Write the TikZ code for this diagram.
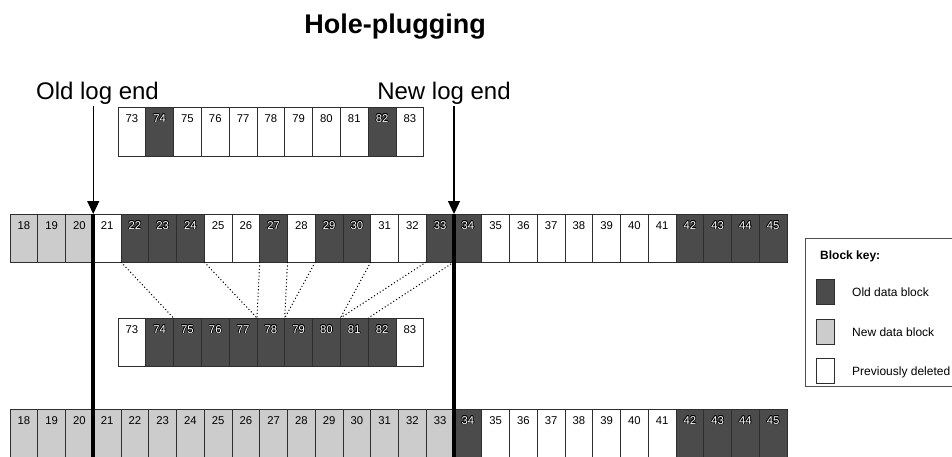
\documentclass[tikz,border=0pt]{standalone}
\usepackage{fontspec}
\setmainfont{Liberation Sans}
\usetikzlibrary{arrows.meta}
\definecolor{olddark}{HTML}{4B4B4B}
\definecolor{newlight}{HTML}{CCCCCC}
\definecolor{edgecol}{HTML}{2E2E2E}
\newbox\ringbox
\newcommand\ringtxt[1]{%
  \setbox\ringbox\hbox{#1}%
  \rlap{\color{black}\kern-.65pt\copy\ringbox}%
  \rlap{\color{black}\kern.65pt\copy\ringbox}%
  \rlap{\color{black}\raise.65pt\copy\ringbox}%
  \rlap{\color{black}\lower.65pt\copy\ringbox}%
  \rlap{\color{black}\kern.46pt\raise.46pt\copy\ringbox}%
  \rlap{\color{black}\kern-.46pt\raise.46pt\copy\ringbox}%
  \rlap{\color{black}\kern.46pt\lower.46pt\copy\ringbox}%
  \rlap{\color{black}\kern-.46pt\lower.46pt\copy\ringbox}%
  \color{white}\copy\ringbox}
\newcommand\fmtold[1]{\ringtxt{#1}}
\newcommand\fmtnew[1]{#1}
\newcommand\fmtdel[1]{#1}
\begin{document}
\begin{tikzpicture}[x=1pt,y=-1pt,
  cellbase/.style={draw=edgecol, line width=0.8pt, minimum width=27.75pt,
    minimum height=48pt, inner sep=0pt, outer sep=0pt, anchor=north west},
  cellold/.style={cellbase, fill=olddark},
  cellnew/.style={cellbase, fill=newlight},
  celldel/.style={cellbase, fill=white},
  tallcell/.style={minimum height=70pt},
  numtxt/.style={font=\fontsize{11.3}{13}\selectfont, inner sep=0pt, anchor=base},
  dotline/.style={line width=1pt, dash pattern=on 1.1pt off 2.3pt},
  arrowline/.style={line width=1.3pt, -{Triangle[width=12pt,length=13pt]}},
  logline/.style={line width=4pt},
  lbl/.style={font=\fontsize{24}{28}\selectfont, inner sep=0pt, anchor=base},
  ttl/.style={font=\bfseries\fontsize{27}{32}\selectfont, inner sep=0pt, anchor=base},
  keytxt/.style={font=\fontsize{12}{14}\selectfont, inner sep=0pt, anchor=base west},
  keyhead/.style={font=\bfseries\fontsize{12}{14}\selectfont, inner sep=0pt, anchor=base west},
  swatch/.style={draw=edgecol, line width=0.8pt, minimum width=18pt, minimum height=25pt,
    inner sep=0pt, outer sep=0pt, anchor=north west}
]
\useasboundingbox (0,0) rectangle (952,456);
\clip (0,0) rectangle (952,456);
\fill[white] (0,0) rectangle (952,456);

% title and labels
\node[ttl] (title) at (395,33) {Hole-plugging};
\node[lbl] (oldlbl) at (97.5,99) {Old log end};
\node[lbl] (newlbl) at (444,99) {New log end};

% row A (top small row)
\foreach \n/\s [count=\i from 0] in {73/del,74/old,75/del,76/del,77/del,78/del,79/del,80/del,81/del,82/old,83/del}{
  \node[cell\s, minimum height=49pt] (A\n) at ({118+\i*27.8},107) {};
  \node[numtxt] (tA\n) at ([yshift=-15.3pt]A\n.north) {\csname fmt\s\endcsname{\n}};
}
% row B (main row before)
\foreach \n/\s [count=\i from 0] in {18/new,19/new,20/new,21/del,22/old,23/old,24/old,25/del,26/del,27/old,28/del,29/old,30/old,31/del,32/del,33/old,34/old,35/del,36/del,37/del,38/del,39/del,40/del,41/del,42/old,43/old,44/old,45/old}{
  \node[cell\s] (B\n) at ({10+\i*27.75},214) {};
  \node[numtxt] (tB\n) at ([yshift=-15.3pt]B\n.north) {\csname fmt\s\endcsname{\n}};
}
% row C (middle small row)
\foreach \n/\s [count=\i from 0] in {73/del,74/old,75/old,76/old,77/old,78/old,79/old,80/old,81/old,82/old,83/del}{
  \node[cell\s] (C\n) at ({118+\i*27.8},318) {};
  \node[numtxt] (tC\n) at ([yshift=-15.3pt]C\n.north) {\csname fmt\s\endcsname{\n}};
}
% row D (main row after)
\foreach \n/\s [count=\i from 0] in {18/new,19/new,20/new,21/new,22/new,23/new,24/new,25/new,26/new,27/new,28/new,29/new,30/new,31/new,32/new,33/new,34/old,35/del,36/del,37/del,38/del,39/del,40/del,41/del,42/old,43/old,44/old,45/old}{
  \node[cell\s, tallcell] (D\n) at ({10+\i*27.75},409) {};
  \node[numtxt] (tD\n) at ([yshift=-15.3pt]D\n.north) {\csname fmt\s\endcsname{\n}};
}

% dotted mapping lines
\draw[dotline] (B21.south east) -- (C74.north east);
\draw[dotline] (B24.south east) -- (C77.north east);
\draw[dotline] (B26.south east) -- (C77.north east);
\draw[dotline] (B27.south east) -- (C78.north east);
\draw[dotline] (B28.south east) -- (C78.north east);
\draw[dotline] (B30.south east) -- (C80.north east);
\draw[dotline] (B32.south east) -- (C80.north east);
\draw[dotline] (B33.south east) -- (C81.north east);

% log end markers
\coordinate (ytop) at (0,106);
\draw[arrowline] (B20.north east |- ytop) -- (B20.north east);
\draw[logline] (B20.north east) -- (D20.south east);
\draw[arrowline] (B33.north east |- ytop) -- (B33.north east);
\draw[logline] (B33.north east) -- (D33.south east);

% legend
\node[draw=edgecol!85, line width=0.8pt, minimum width=200pt, minimum height=148pt,
  anchor=north west, inner sep=0pt, outer sep=0pt] (keybox) at (805,238) {};
\node[keyhead] (keytitle) at (820,259.3) {Block key:};
\node[swatch, fill=olddark] (swold) at (816,279) {};
\node[swatch, fill=newlight] (swnew) at (816,319.5) {};
\node[swatch, fill=white] (swdel) at (816,358.5) {};
\node[keytxt] (kold) at (852,296) {Old data block};
\node[keytxt] (knew) at (852,336.5) {New data block};
\node[keytxt] (kdel) at (852,375.5) {Previously deleted};
\end{tikzpicture}
\end{document}
